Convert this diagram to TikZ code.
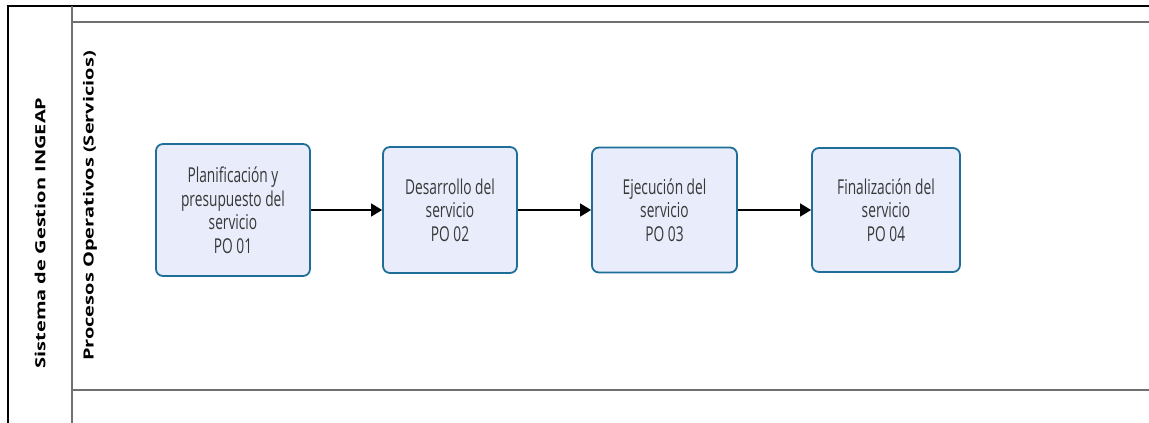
\documentclass[tikz,border=0pt]{standalone}
\usepackage{fontspec}
\setmainfont{Open Sans}
\newfontfamily\stepfont[FakeStretch=0.67]{Open Sans}
\newfontfamily\titlefont[FakeStretch=1.43]{Open Sans Bold}
\usetikzlibrary{arrows.meta}
\definecolor{boxfill}{HTML}{E9EDFB}
\definecolor{boxline}{HTML}{1E6E98}
\definecolor{txt}{HTML}{383838}
\definecolor{lane}{HTML}{707070}
\tikzset{
  x=1pt, y=1pt,
  procbox/.style={draw=boxline, line width=1.8pt, fill=boxfill, rounded corners=7pt,
    text=txt, align=center, font=\stepfont\fontsize{20.5}{23.5}\selectfont, inner sep=0pt},
  flow/.style={-{Triangle[length=11pt,width=13pt]}, line width=1.5pt, black},
  lanetitle/.style={rotate=90, font=\titlefont\fontsize{14}{16}\selectfont, text=black},
  poolline/.style={line width=1.8pt, black},
  laneline/.style={line width=1.3pt, lane}
}
\begin{document}
\begin{tikzpicture}
\useasboundingbox (0,0) rectangle (1149,-423);
% pool frame and lanes
\draw[poolline] (8,-423) -- (8,-6) -- (1149,-6);
\draw[laneline] (72,-6) -- (72,-423);
\draw[laneline] (72,-22) -- (1149,-22);
\draw[laneline] (72,-390) -- (1149,-390);
% titles
\node[lanetitle] (pool) at (40,-233) {Sistema de Gestion INGEAP};
\node[lanetitle] (lanelbl) at (90,-206) {Procesos Operativos (Servicios)};
% process steps
\node[procbox, minimum width=154pt, minimum height=132pt] (p1) at (233,-210)
  {Planificación y\\presupuesto del\\servicio\\PO 01};
\node[procbox, minimum width=134pt, minimum height=126pt] (p2) at (450,-210)
  {Desarrollo del\\servicio\\PO 02};
\node[procbox, minimum width=145pt, minimum height=125pt] (p3) at (664.5,-210)
  {Ejecución del\\servicio\\PO 03};
\node[procbox, minimum width=148pt, minimum height=124pt] (p4) at (886,-210)
  {Finalización del\\servicio\\PO 04};
% sequence flows
\draw[flow] (p1) -- (p2);
\draw[flow] (p2) -- (p3);
\draw[flow] (p3) -- (p4);
\end{tikzpicture}
\end{document}
